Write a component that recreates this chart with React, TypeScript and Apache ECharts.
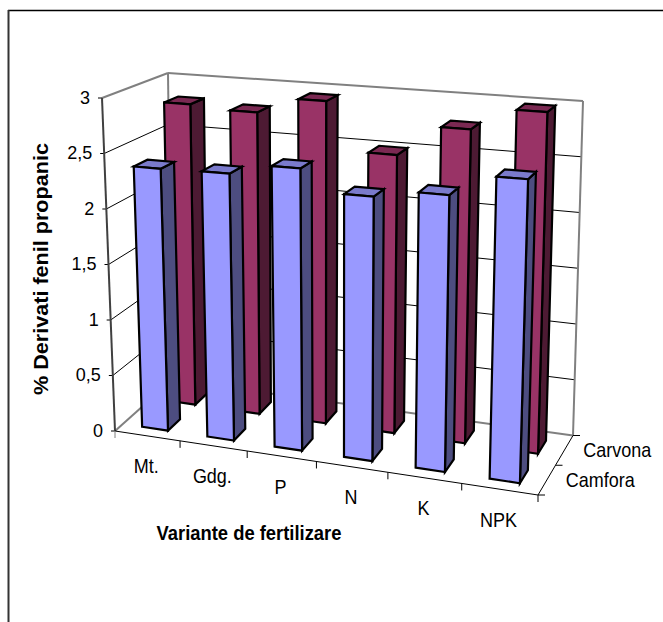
import React, { useEffect, useRef } from "react";
import * as echarts from "echarts";

const categories = ["Mt.", "Gdg.", "P", "N", "K", "NPK"];
const seriesNames = ["Carvona", "Camfora"];
const carvona = [2.82, 2.79, 2.94, 2.5, 2.78, 2.98];
const camfora = [2.36, 2.37, 2.47, 2.28, 2.35, 2.54];
const yTicks = [0, 0.5, 1, 1.5, 2, 2.5, 3];
const yTickLabels = ["0", "0,5", "1", "1,5", "2", "2,5", "3"];
const xTitle = "Variante de fertilizare";
const yTitle = "% Derivati fenil propanic";

const FONT = '"Liberation Sans", Arial, sans-serif';
const GRID = { left: 115, top: 98, width: 423, height: 333 };

// Corners of the 3D box on screen: [x, y] keyed by side / depth / height.
const BOX = {
  flb: [115, 431], frb: [538, 495], blb: [172, 380], brb: [573, 435.5],
  flt: [102, 98], frt: [549, 130], blt: [168, 73], brt: [583, 101],
};

type Pt = number[];
const mix = (a: Pt, b: Pt, t: number): Pt => [a[0] + (b[0] - a[0]) * t, a[1] + (b[1] - a[1]) * t];

// Foreshortening along the category direction.
const warp = (u: number) => u / (u + 1.1 * (1 - u));

// u: across categories, v: front to back, w: height; all in 0..1.
const project = (u: number, v: number, w: number): Pt => {
  const t = warp(u);
  const bottom = mix(mix(BOX.flb, BOX.frb, t), mix(BOX.blb, BOX.brb, t), v);
  const top = mix(mix(BOX.flt, BOX.frt, t), mix(BOX.blt, BOX.brt, t), v);
  return mix(bottom, top, w);
};

const toU = (px: number) => (px - GRID.left) / GRID.width;
const toW = (py: number) => (GRID.top + GRID.height - py) / GRID.height;

const line = (a: Pt, b: Pt, stroke: string, lineWidth = 1) => ({
  type: "line",
  shape: { x1: a[0], y1: a[1], x2: b[0], y2: b[1] },
  style: { stroke, lineWidth, fill: "none" },
  silent: true,
});

const text = (x: number, y: number, str: string, align: string, scaleY = 1.15) => ({
  type: "text",
  x,
  y,
  scaleY,
  silent: true,
  style: {
    text: str,
    x: 0,
    y: 0,
    align,
    verticalAlign: "middle",
    font: `18px ${FONT}`,
    fill: "#000",
  },
});

const quad = (points: Pt[], fill: string) => ({
  type: "polygon",
  shape: { points },
  style: { fill, stroke: "#000", lineWidth: 2.2, lineJoin: "miter" },
  silent: true,
});

// One 3D column for a category, in a depth slot given by v0..v1.
const columnRenderer =
  (v0: number, v1: number, front: string, side: string, topFace: string) =>
  (_params: any, api: any) => {
    const i = api.value(0);
    const value = api.value(1);
    const centre = api.coord([i, 0]);
    const peak = api.coord([i, value]);
    const band = api.size([1, 0])[0];
    const u0 = toU(centre[0] - band * 0.2);
    const u1 = toU(centre[0] + band * 0.2);
    const w = toW(peak[1]);
    return {
      type: "group",
      children: [
        quad([project(u1, v0, 0), project(u1, v1, 0), project(u1, v1, w), project(u1, v0, w)], side),
        quad([project(u0, v0, w), project(u1, v0, w), project(u1, v1, w), project(u0, v1, w)], topFace),
        quad([project(u0, v0, 0), project(u1, v0, 0), project(u1, v0, w), project(u0, v0, w)], front),
      ],
    };
  };

// Walls, gridlines, value ticks and value labels.
const renderValueFrame = (_params: any, api: any) => {
  const w = toW(api.coord([0, api.value(1)])[1]);
  const idx = api.value(2);
  const fl = project(0, 0, w);
  const bl = project(0, 1, w);
  const br = project(1, 1, w);
  const grey = w === 0 || w === 1;
  const colour = grey ? "#808080" : "#000";
  const width = grey ? 2 : 1;
  return {
    type: "group",
    children: [
      line(fl, bl, colour, width),
      line(bl, br, colour, width),
      line([fl[0] - 4, fl[1]], fl, "#000", 1),
      text(fl[0] - 12, fl[1] - 1, yTickLabels[idx], "right", 1.05),
    ],
  };
};

// Category ticks below the floor's front edge, with the category labels.
const renderCategoryFrame = (_params: any, api: any) => {
  const i = api.value(0);
  const centre = api.coord([i, 0]);
  const band = api.size([1, 0])[0];
  const edge = project(toU(centre[0] + band / 2), 0, 0);
  const mid = project(toU(centre[0]), 0, 0);
  return {
    type: "group",
    children: [
      line(edge, [edge[0], edge[1] + 7], "#000", 1),
      text(mid[0] - 1, mid[1] + 30, categories[i], "center"),
    ],
  };
};

// Box edges and the depth axis with its series labels.
const renderEdges = () => {
  const depthTicks = [0, 0.5, 1];
  const right = (v: number) => project(1, v, 0);
  return {
    type: "group",
    children: [
      line(project(0, 1, 0), project(0, 1, 1), "#808080", 2),
      line(project(1, 1, 0), project(1, 1, 1), "#808080", 2),
      line(project(0, 0, 0), project(0, 0, 1), "#404040", 2),
      line(project(0, 0, 0), project(1, 0, 0), "#000", 1),
      line(right(0), right(1), "#000", 1),
      line(project(0, 0, 0), [115, 438], "#808080", 1),
      ...depthTicks.map((v) => line(right(v), [right(v)[0] + 7, right(v)[1]], "#000", 1)),
      text(right(0.75)[0] + 19, right(0.75)[1] - 1, seriesNames[0], "left"),
      text(right(0.25)[0] + 19, right(0.25)[1] - 1, seriesNames[1], "left"),
    ],
  };
};

export default function App() {
  const ref = useRef<HTMLDivElement>(null);
  useEffect(() => {
    document.body.style.margin = "0";
    const chart = echarts.init(ref.current!, undefined, { renderer: "svg" });
    chart.setOption({
      animation: false,
      backgroundColor: "#fff",
      grid: { ...GRID, containLabel: false },
      xAxis: { type: "category", data: categories, show: false },
      yAxis: { type: "value", min: 0, max: 3, interval: 0.5, show: false },
      graphic: [
        { type: "line", shape: { x1: 8, y1: 10.5, x2: 663, y2: 10.5 }, style: { stroke: "#000", lineWidth: 1.5 } },
        { type: "line", shape: { x1: 8.5, y1: 10, x2: 8.5, y2: 622 }, style: { stroke: "#333", lineWidth: 2 } },
        {
          type: "text",
          x: 249,
          y: 533,
          scaleY: 1.12,
          style: { text: xTitle, x: 0, y: 0, align: "center", verticalAlign: "middle", font: `bold 18.4px ${FONT}`, fill: "#000" },
        },
        {
          type: "text",
          x: 41,
          y: 269,
          rotation: Math.PI / 2,
          scaleX: 1.08,
          style: { text: yTitle, x: 0, y: 0, align: "center", verticalAlign: "middle", font: `bold 20px ${FONT}`, fill: "#000" },
        },
      ],
      series: [
        {
          type: "custom",
          name: "walls",
          coordinateSystem: "cartesian2d",
          clip: false,
          renderItem: renderValueFrame,
          data: yTicks.map((v, i) => [0, v, i]),
          z: 1,
        },
        {
          type: "custom",
          name: "edges",
          coordinateSystem: "cartesian2d",
          clip: false,
          renderItem: renderEdges,
          data: [[0, 0]],
          z: 2,
        },
        {
          type: "custom",
          name: "categories",
          coordinateSystem: "cartesian2d",
          clip: false,
          renderItem: renderCategoryFrame,
          data: categories.map((_, i) => [i, 0]),
          z: 2,
        },
        {
          type: "custom",
          name: seriesNames[0],
          coordinateSystem: "cartesian2d",
          clip: false,
          renderItem: columnRenderer(0.64, 0.86, "#993366", "#4D1A33", "#7A2952"),
          data: carvona.map((v, i) => [i, v]),
          z: 3,
        },
        {
          type: "custom",
          name: seriesNames[1],
          coordinateSystem: "cartesian2d",
          clip: false,
          renderItem: columnRenderer(0.14, 0.36, "#9999FF", "#4D4D80", "#7A7ACC"),
          data: camfora.map((v, i) => [i, v]),
          z: 4,
        },
      ],
    });
    return () => chart.dispose();
  }, []);
  return <div ref={ref} style={{ position: "absolute", left: 0, top: 0, width: 663, height: 622 }} />;
}
